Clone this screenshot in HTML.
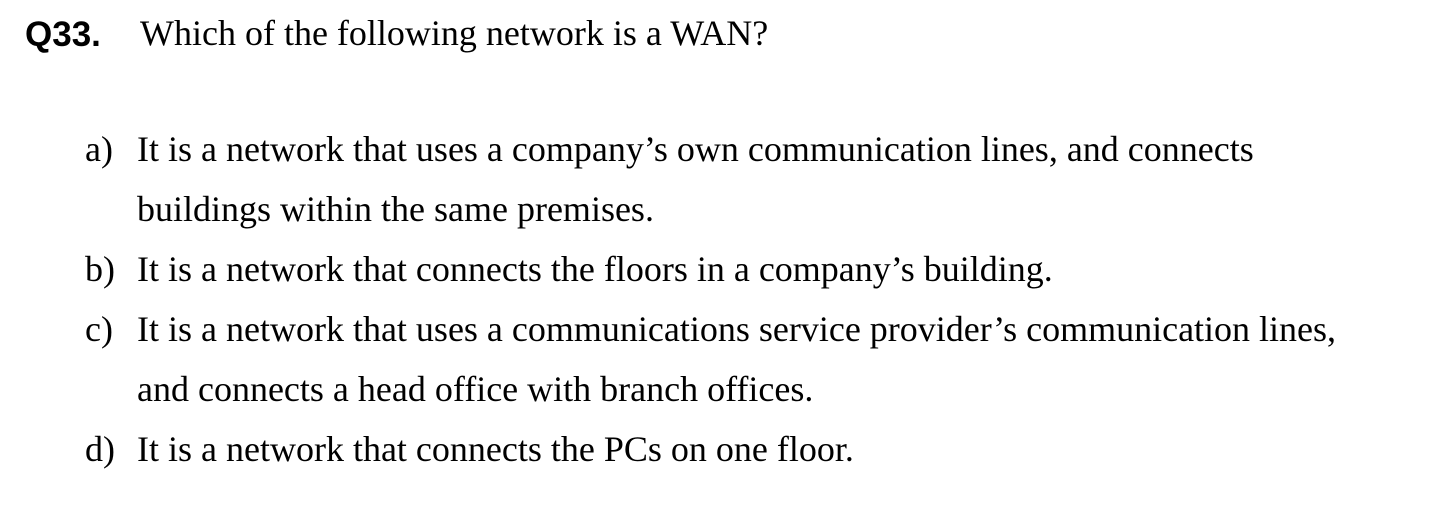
<!DOCTYPE html>
<html><head><meta charset="utf-8"><style>
body{margin:0;width:1450px;height:508px;background:#fff;position:relative;overflow:hidden;color:#000}
.t{position:absolute;font-family:"Liberation Serif",serif;font-size:36px;line-height:40px;white-space:nowrap}
.q{position:absolute;font-family:"Liberation Sans",sans-serif;font-weight:bold;font-size:35px;line-height:40px;left:25px;top:15px}
</style></head><body>
<div class="q">Q33.</div>
<div class="t" style="left:140px;top:13px">Which of the following network is a WAN?</div>
<div class="t" style="left:85px;top:129px">a)</div>
<div class="t" style="left:137px;top:129px">It is a network that uses a company’s own communication lines, and connects</div>
<div class="t" style="left:137px;top:189px">buildings within the same premises.</div>
<div class="t" style="left:85px;top:249px">b)</div>
<div class="t" style="left:137px;top:249px">It is a network that connects the floors in a company’s building.</div>
<div class="t" style="left:85px;top:309px">c)</div>
<div class="t" style="left:137px;top:309px">It is a network that uses a communications service provider’s communication lines,</div>
<div class="t" style="left:137px;top:369px">and connects a head office with branch offices.</div>
<div class="t" style="left:85px;top:429px">d)</div>
<div class="t" style="left:137px;top:429px">It is a network that connects the PCs on one floor.</div>
</body></html>
